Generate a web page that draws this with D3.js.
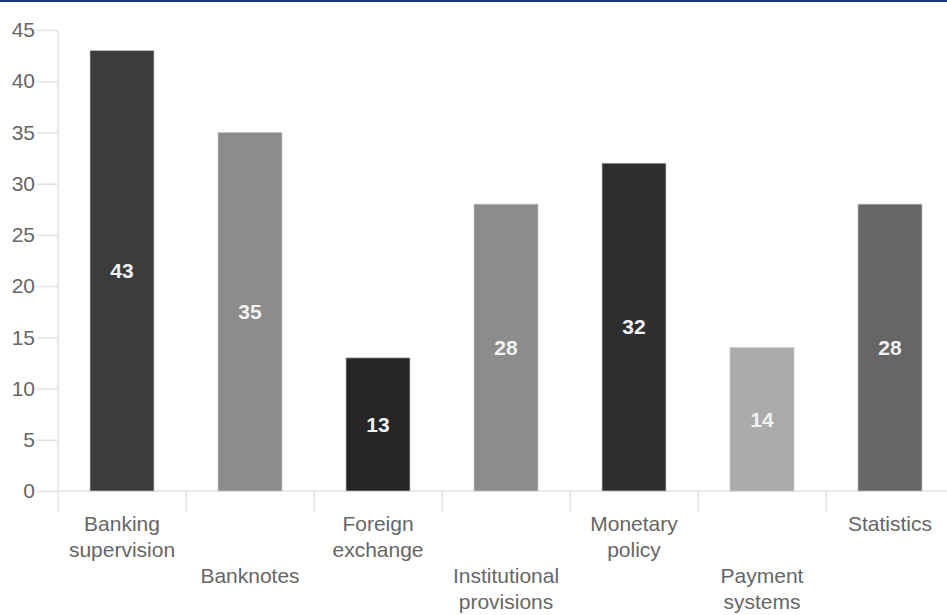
<!DOCTYPE html>
<html>
<head>
<meta charset="utf-8">
<script src="https://cdn.jsdelivr.net/npm/d3@7"></script>
<style>
  html, body { margin: 0; padding: 0; background: #fff; overflow: hidden; }
  #chart { width: 947px; height: 615px; }
  text { font-family: "Liberation Sans", Arial, sans-serif; }
</style>
</head>
<body>
<div id="chart"></div>
<script>
const categories = ["Banking supervision", "Banknotes", "Foreign exchange", "Institutional provisions",
  "Monetary policy", "Payment systems", "Statistics"];
const labelLines = [["Banking", "supervision"], ["Banknotes"], ["Foreign", "exchange"], ["Institutional", "provisions"],
  ["Monetary", "policy"], ["Payment", "systems"], ["Statistics"]];
const values = [43, 35, 13, 28, 32, 14, 28];
const barColors = ["#3c3c3c", "#8c8c8c", "#252525", "#8c8c8c", "#2e2e2e", "#ababab", "#666666"];
const yTicks = [0, 5, 10, 15, 20, 25, 30, 35, 40, 45];

(function draw() {
  const width = 947, height = 615;
  const plotLeft = 58, plotBottom = 491, plotTop = 30, step = 128;

  const svg = d3.select("#chart").append("svg")
    .attr("width", width)
    .attr("height", height);

  // navy rule along the top edge
  svg.append("rect").attr("x", 0).attr("y", 0).attr("width", width).attr("height", 2).attr("fill", "#17397a");

  const x = d3.scaleBand()
    .domain(categories)
    .range([plotLeft, plotLeft + step * categories.length])
    .paddingInner(0.5)
    .paddingOuter(0.25);

  const y = d3.scaleLinear().domain([0, 45]).range([plotBottom, plotTop]);

  const axisColor = "#e2e2e2";
  const textColor = "#666";

  // y axis
  const yAxis = svg.append("g")
    .attr("transform", `translate(${plotLeft},0)`)
    .call(d3.axisLeft(y).tickValues(yTicks).tickSize(21).tickPadding(2).tickSizeOuter(0));
  yAxis.select(".domain").remove();
  yAxis.selectAll(".tick line").attr("stroke", axisColor).attr("stroke-width", 1.5);
  yAxis.selectAll(".tick text")
    .attr("fill", textColor)
    .style("font-size", "21px")
    .style("font-family", "'Liberation Sans', Arial, sans-serif");

  svg.append("line")
    .attr("x1", plotLeft).attr("x2", plotLeft)
    .attr("y1", plotTop).attr("y2", plotBottom + 21)
    .attr("stroke", axisColor).attr("stroke-width", 1.5);

  // x axis baseline and band separators
  svg.append("line")
    .attr("x1", plotLeft).attr("x2", width)
    .attr("y1", plotBottom).attr("y2", plotBottom)
    .attr("stroke", axisColor).attr("stroke-width", 1.5);

  svg.selectAll("line.sep")
    .data(categories.slice(1))
    .enter()
    .append("line")
    .attr("class", "sep")
    .attr("x1", d => x(d) - x.step() * 0.25)
    .attr("x2", d => x(d) - x.step() * 0.25)
    .attr("y1", plotBottom)
    .attr("y2", plotBottom + 21)
    .attr("stroke", axisColor)
    .attr("stroke-width", 1.5);

  // bars
  svg.selectAll("rect.bar")
    .data(categories)
    .enter()
    .append("rect")
    .attr("class", "bar")
    .attr("x", d => x(d))
    .attr("y", (d, i) => y(values[i]))
    .attr("width", x.bandwidth())
    .attr("height", (d, i) => y(0) - y(values[i]))
    .attr("fill", (d, i) => barColors[i])
    .attr("stroke", "rgba(200,200,200,0.7)")
    .attr("stroke-width", 1);

  // value labels
  svg.selectAll("text.val")
    .data(categories)
    .enter()
    .append("text")
    .attr("class", "val")
    .attr("x", d => x(d) + x.bandwidth() / 2)
    .attr("y", (d, i) => (y(values[i]) + y(0)) / 2)
    .attr("dy", "0.35em")
    .attr("text-anchor", "middle")
    .attr("fill", "#f2f2f2")
    .style("font-size", "21px")
    .style("font-weight", "bold")
    .text((d, i) => values[i]);

  // staggered category labels
  const lab = svg.selectAll("text.cat")
    .data(categories)
    .enter()
    .append("text")
    .attr("class", "cat")
    .attr("text-anchor", "middle")
    .attr("fill", textColor)
    .style("font-size", "21px");

  lab.each(function(d, i) {
    const t = d3.select(this);
    const cx = x(d) + x.bandwidth() / 2;
    const baseY = 531 + (i % 2) * 52;
    labelLines[i].forEach((line, k) => {
      t.append("tspan").attr("x", cx).attr("y", baseY + k * 26).text(line);
    });
  });
})();
</script>
</body>
</html>
